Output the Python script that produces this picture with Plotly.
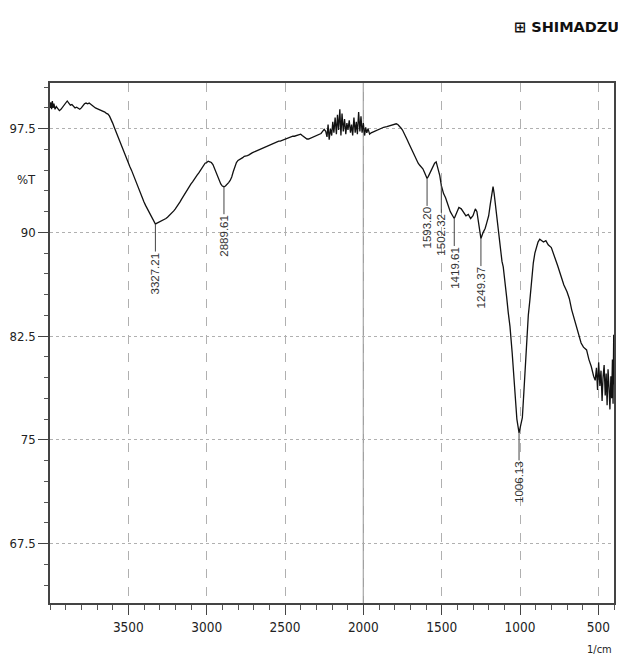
import plotly.graph_objects as go
import numpy as np

# ---------------- data ----------------
wavenumber = [
    4000, 3995, 3990, 3985, 3980, 3975, 3968, 3960, 3950, 3940, 3930, 3920, 3910, 3900,
    3890, 3880, 3870, 3860, 3850, 3840, 3830, 3820, 3810, 3800, 3790, 3780, 3770, 3760,
    3750, 3740, 3730, 3720, 3710, 3700, 3690, 3680, 3670, 3660, 3650, 3640, 3630, 3620,
    3610, 3600, 3590, 3580, 3570, 3560, 3550, 3540, 3530, 3520, 3510, 3500, 3490, 3480,
    3470, 3460, 3450, 3440, 3430, 3420, 3410, 3400, 3390, 3380, 3370, 3360, 3350, 3340,
    3330, 3327.21, 3320, 3310, 3300, 3290, 3280, 3270, 3260, 3250, 3240, 3230, 3220, 3210,
    3200, 3190, 3180, 3170, 3160, 3150, 3140, 3130, 3120, 3110, 3100, 3090, 3080, 3070,
    3060, 3050, 3040, 3030, 3020, 3010, 3000, 2990, 2980, 2970, 2960, 2950, 2940, 2930,
    2920, 2910, 2900, 2889.61, 2880, 2870, 2860, 2850, 2840, 2830, 2820, 2810, 2800, 2790,
    2780, 2770, 2760, 2750, 2740, 2730, 2720, 2710, 2700, 2690, 2680, 2670, 2660, 2650,
    2640, 2630, 2620, 2610, 2600, 2590, 2580, 2570, 2560, 2550, 2540, 2530, 2520, 2510,
    2500, 2490, 2480, 2470, 2460, 2450, 2440, 2430, 2420, 2410, 2400, 2390, 2380, 2370,
    2360, 2350, 2340, 2330, 2320, 2310, 2300, 2290, 2280, 2270, 2260, 2250,
    2240, 2232, 2225, 2218, 2210, 2202, 2195, 2188, 2180, 2172, 2165, 2158, 2150, 2143,
    2136, 2128, 2120, 2112, 2105, 2098, 2090, 2082, 2075, 2068, 2060, 2052, 2045, 2038,
    2030, 2022, 2015, 2008, 2000, 1992, 1985, 1978, 1970, 1960, 1950,
    1930, 1910, 1890, 1870, 1850, 1830, 1810, 1790, 1780, 1770, 1760, 1750, 1740, 1730,
    1720, 1710, 1700, 1690, 1680, 1670, 1660, 1650, 1640, 1630, 1620, 1610, 1600, 1593.2,
    1585, 1575, 1565, 1555, 1545, 1535, 1528, 1520, 1512, 1502.32, 1495, 1488, 1475, 1460,
    1445, 1430, 1419.61, 1405, 1390, 1375, 1360, 1345, 1330, 1315, 1300, 1285, 1275, 1265,
    1249.37, 1235, 1222, 1212, 1200, 1190, 1180, 1172, 1165, 1157, 1149, 1140, 1128, 1115,
    1107, 1095, 1085, 1075, 1064, 1050, 1040, 1030, 1020, 1006.13, 995, 985, 975, 965,
    957, 947, 937, 925, 915, 905, 895, 885, 874, 860, 850, 835, 820, 800, 780, 760, 740,
    720, 700, 685, 670, 655, 640, 625, 610, 595, 575, 560, 545, 530, 520, 512, 505, 498,
    490, 483, 476, 470, 463, 456, 450, 444, 438, 432, 426, 420, 415, 410, 406, 402, 400,
]

transmittance = [
    99.0, 99.4, 98.9, 99.5, 99.0, 99.3, 98.9, 99.1, 98.95, 98.8, 98.9, 99.05, 99.2, 99.3,
    99.5, 99.35, 99.2, 99.25, 99.1, 99.0, 99.05, 98.95, 98.9, 99.0, 99.15, 99.3, 99.35, 99.3,
    99.35, 99.25, 99.2, 99.1, 99.0, 98.95, 98.9, 98.9, 98.85, 98.75, 98.7, 98.6, 98.55, 98.4,
    98.2, 97.9, 97.6, 97.3, 97.0, 96.7, 96.4, 96.1, 95.8, 95.5, 95.25, 95.0, 94.75, 94.5,
    94.2, 93.9, 93.6, 93.3, 93.0, 92.7, 92.45, 92.2, 91.95, 91.75, 91.5, 91.3, 91.1, 90.9,
    90.7, 90.6, 90.65, 90.7, 90.75, 90.8, 90.85, 90.95, 91.0, 91.1, 91.2, 91.3, 91.45, 91.55,
    91.7, 91.85, 92.0, 92.2, 92.4, 92.6, 92.8, 92.95, 93.15, 93.3, 93.5, 93.65, 93.85, 94.0,
    94.15, 94.3, 94.5, 94.7, 94.85, 95.0, 95.05, 95.15, 95.1, 95.05, 94.9, 94.6, 94.25, 93.95,
    93.7, 93.5, 93.35, 93.3, 93.35, 93.45, 93.6, 93.75, 94.0, 94.4, 94.8, 95.05, 95.2, 95.25,
    95.35, 95.4, 95.5, 95.5, 95.55, 95.6, 95.7, 95.75, 95.8, 95.85, 95.9, 96.0, 96.05, 96.1,
    96.15, 96.2, 96.25, 96.3, 96.35, 96.4, 96.45, 96.45, 96.5, 96.55, 96.6, 96.6, 96.65, 96.7,
    96.75, 96.8, 96.8, 96.85, 96.9, 96.95, 96.95, 97.0, 97.0, 97.05, 97.1, 97.0, 96.9, 96.8,
    96.75, 96.75, 96.8, 96.85, 96.85, 96.9, 96.95, 97.0, 97.05, 97.15, 97.3, 97.45,
    97.3, 96.9, 97.8, 96.7, 97.5, 97.0, 98.0, 97.2, 98.3, 97.1, 98.5, 97.4, 98.9, 97.0,
    98.6, 97.3, 98.2, 97.1, 97.9, 97.4, 98.1, 97.2, 97.8, 97.0, 98.3, 97.2, 98.0, 97.1,
    98.7, 97.3, 98.4, 97.2, 97.9, 97.0, 97.6, 97.2, 97.5, 97.1, 97.2,
    97.3, 97.45, 97.5, 97.6, 97.65, 97.7, 97.8, 97.85, 97.8, 97.7, 97.55, 97.4, 97.2, 96.95,
    96.7, 96.45, 96.2, 95.95, 95.7, 95.45, 95.2, 95.0, 94.85, 94.75, 94.6, 94.35, 94.1, 93.9,
    94.05, 94.3, 94.55, 94.8, 95.0, 95.1, 94.8, 94.4, 94.1, 93.4, 93.0, 92.8, 92.5, 92.0,
    91.5, 91.2, 91.0, 91.4, 91.8, 91.7, 91.4, 91.2, 91.3, 91.0, 91.2, 91.7, 91.5, 90.6,
    89.55, 90.0, 90.3, 90.7, 91.2, 92.0, 92.8, 93.3, 92.8, 92.0, 91.3, 90.2, 88.9, 87.9,
    87.5, 86.5, 85.3, 84.2, 83.2, 81.3, 79.5, 77.8, 76.5, 75.5, 76.0, 76.6, 78.5, 80.6,
    82.7, 84.0, 85.1, 86.8, 87.8, 88.5, 89.0, 89.3, 89.5, 89.4, 89.3, 89.4, 89.1, 88.9, 88.3,
    87.6, 86.9, 86.2, 85.7, 85.2, 84.4, 83.8, 83.3, 82.6, 82.0, 81.7, 81.5, 80.8, 80.3, 79.6,
    79.3, 80.2, 78.6, 80.6, 78.9, 80.0, 77.8, 79.5, 80.4, 78.2, 79.8, 77.5, 80.1, 78.8, 77.2,
    79.6, 78.0, 80.8, 77.6, 82.6, 79.0,
]

peak_labels = ["3327.21", "2889.61", "1593.20", "1502.32", "1419.61", "1249.37", "1006.13"]
peak_wn = [3327.21, 2889.61, 1593.20, 1502.32, 1419.61, 1249.37, 1006.13]

y_tick_vals = [67.5, 75, 82.5, 90, 97.5]
y_tick_text = ["67.5", "75", "82.5", "90", "97.5"]
x_tick_vals = [3500, 3000, 2500, 2000, 1500, 1000, 500]
x_tick_text = ["3500", "3000", "2500", "2000", "1500", "1000", "500"]

# ---------------- figure ----------------
NARROW = "Liberation Sans Narrow, Arial Narrow, DejaVu Sans Condensed, sans-serif"
INK = "#222222"

fig = go.Figure()
fig.add_trace(go.Scatter(
    x=wavenumber, y=transmittance, mode="lines",
    line=dict(color="#111111", width=1.3), hoverinfo="skip", showlegend=False,
))

# solid vertical reference line at 2000
fig.add_vline(x=2000, line=dict(color="#9a9a9a", width=1.2), layer="below")

# peak labels
wn_asc = np.array(wavenumber[::-1], dtype=float)
t_asc = np.array(transmittance[::-1], dtype=float)
for lab, p in zip(peak_labels, peak_wn):
    t_peak = float(np.interp(p, wn_asc, t_asc))
    fig.add_annotation(
        x=p, y=t_peak, xref="x", yref="y", text=lab, textangle=-90,
        showarrow=True, arrowhead=0, arrowwidth=1, arrowcolor="#444444",
        ax=0, ay=49, standoff=0, startstandoff=0,
        font=dict(family="Liberation Sans, Arial, sans-serif", size=11.5, color="#333333"),
        borderpad=0,
    )

# axis titles and logo
fig.add_annotation(text="%T", xref="paper", yref="paper", x=-0.041, y=0.8135,
                   xanchor="center", yanchor="middle",
                   showarrow=False, font=dict(family=NARROW, size=13, color=INK))
fig.add_annotation(text="1/cm", xref="paper", yref="paper", x=0.975, y=-0.0885,
                   xanchor="center", yanchor="middle",
                   showarrow=False, font=dict(family=NARROW, size=11, color=INK))
fig.add_annotation(text="<b>⊞ SHIMADZU</b>", xref="paper", yref="paper", x=1.0124, y=1.1077,
                   xanchor="right", yanchor="middle", showarrow=False,
                   font=dict(family="DejaVu Sans, sans-serif", size=14.5, color="#111111"))

# page body has an 8px default margin: shrink the figure so the plot area lands right
fig.update_layout(
    width=618, height=648,
    margin=dict(l=42, r=12, t=75, b=53, autoexpand=False),
    paper_bgcolor="white", plot_bgcolor="white",
    showlegend=False,
    xaxis=dict(
        range=[4000, 400], tickmode="array", tickvals=x_tick_vals, ticktext=x_tick_text,
        ticks="outside", ticklen=10, tickcolor="#444444", tickwidth=1,
        showgrid=True, gridcolor="#b0b0b0", griddash="dash", gridwidth=1,
        showline=True, linecolor="#444444", linewidth=1.5, mirror=True,
        zeroline=False, ticklabelstandoff=1, automargin=False,
        tickfont=dict(family=NARROW, size=13.5, color=INK),
        minor=dict(tickmode="linear", tick0=0, dtick=100, ticks="outside", ticklen=5,
                   tickcolor="#555555", showgrid=False),
    ),
    yaxis=dict(
        range=[63.2, 100.8], tickmode="array", tickvals=y_tick_vals, ticktext=y_tick_text,
        ticks="outside", ticklen=10, tickcolor="#444444", tickwidth=1,
        showgrid=True, gridcolor="#b0b0b0", griddash="dot", gridwidth=1,
        showline=True, linecolor="#444444", linewidth=1.5, mirror=True,
        zeroline=False, automargin=False,
        tickfont=dict(family=NARROW, size=13, color=INK),
        minor=dict(tickmode="linear", tick0=67.5, dtick=1.5, ticks="outside", ticklen=4,
                   tickcolor="#555555", showgrid=False),
    ),
)

fig.write_html("out.html")
